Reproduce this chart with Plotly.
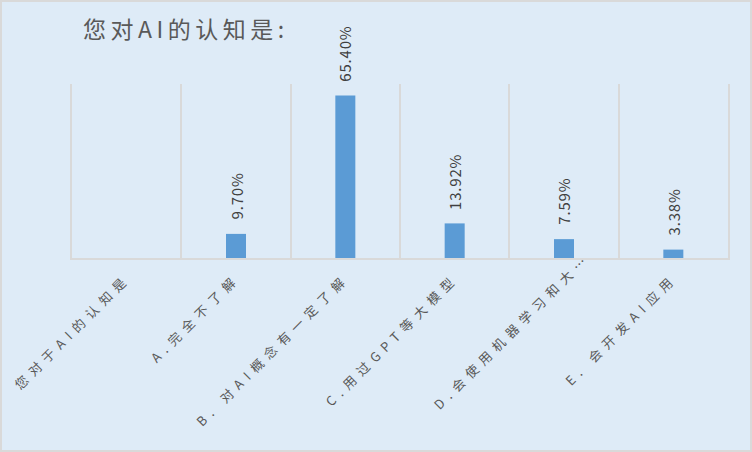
import plotly.graph_objects as go

categories = ["您对于AI的认知是", "A.完全不了解", "B. 对AI概念有一定了解", "C.用过GPT等大模型",
              "D.会使用机器学习和大…", "E. 会开发AI应用"]
values = [None, 9.70, 65.40, 13.92, 7.59, 3.38]
value_labels = ["" if v is None else f"{v:.2f}%" for v in values]
title_text = "您对AI的认知是:"

FONT = "Noto Sans CJK SC"
W, H = 752, 452
L, R, T, B = 72, 24, 84, 194
BG = "#DEEBF7"
GRID = "#D9D9D9"

fig = go.Figure(go.Bar(
    x=categories, y=values,
    marker=dict(color="#5B9BD5", line=dict(width=0)),
    width=0.183, hoverinfo="skip",
))

for c, v, t in zip(categories, values, value_labels):
    if v is None:
        continue
    fig.add_annotation(x=c, y=v, text=t, textangle=-90, showarrow=False,
                       xanchor="center", yanchor="bottom", yshift=14,
                       font=dict(family=FONT, size=15, color="#404040"))

pw, ph = W - L - R, H - T - B
fig.add_shape(type="rect", xref="paper", yref="paper",
              x0=-(L - 1) / pw, x1=1 + (R - 1) / pw,
              y0=-(B - 1) / ph, y1=1 + (T - 1) / ph,
              line=dict(color=GRID, width=2), layer="below")

fig.update_layout(
    width=W, height=H,
    margin=dict(l=L, r=R, t=T, b=B, pad=0),
    paper_bgcolor=BG, plot_bgcolor=BG,
    showlegend=False,
    title=dict(text=title_text, x=83 / W, xanchor="left", xref="container",
               y=1 - 30 / H, yanchor="middle", yref="container",
               font=dict(family=FONT, size=23, color="#595959")),
    font=dict(family=FONT, color="#595959"),
    xaxis=dict(type="category", tickson="boundaries", showgrid=True,
               gridcolor=GRID, gridwidth=1.5, ticks="",
               showline=True, linecolor=GRID, linewidth=2,
               tickangle=-45, ticklabelstandoff=6,
               tickfont=dict(family=FONT, size=13, color="#595959"),
               range=[-0.5, 5.5]),
    yaxis=dict(range=[0, 70], showgrid=False, showticklabels=False,
               zeroline=False, showline=True, mirror=True, linecolor=GRID,
               linewidth=1.5, ticks=""),
)

post = """
document.body.style.margin = '0';
var st = document.createElement('style');
st.textContent = '.xtick text{letter-spacing:6px;} .gtitle{letter-spacing:4.5px;} '
  + '.annotation-text{letter-spacing:0.8px;} '
  + '.xaxislayer-above g.xtick:nth-of-type(5){transform:translate(23px,-21px);}';
document.head.appendChild(st);
"""

fig.write_html("out.html", post_script=post, config={"displayModeBar": False})
